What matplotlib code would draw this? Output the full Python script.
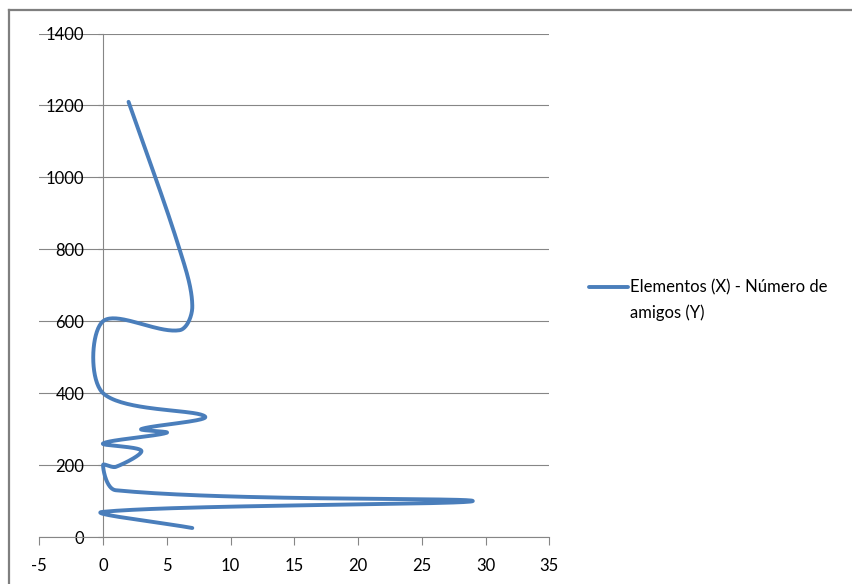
import numpy as np
import matplotlib
matplotlib.use("Agg")
import matplotlib.pyplot as plt
from matplotlib.lines import Line2D

# Elementos (X) and Número de amigos (Y), in plotting order
elementos = [7, 0, 29, 1, 0, 1, 3, 0, 5, 3, 8, 0, 0, 6, 7, 6, 2]
amigos = [25, 70, 100, 130, 200, 195, 240, 260, 290, 300, 335, 400, 600, 575, 640, 800, 1210]
series_label = "Elementos (X) - Número de\namigos (Y)"

x_ticks = list(range(-5, 36, 5))
y_ticks = list(range(0, 1401, 200))

LINE_BLUE = "#4A7EBB"
GRID_GREY = "#868686"
FONT = "Lato"

W, H, DPI = 853, 584, 100
fig = plt.figure(figsize=(W / DPI, H / DPI), dpi=DPI)
ax = fig.add_axes([39.3 / W, 1 - 537 / H, (549.3 - 39.3) / W, (537 - 33.5) / H])
ax.set_xlim(-5, 35)
ax.set_ylim(0, 1400)


def smooth_path(xs, ys, n=40):
    """Bezier smoothing through every point, computed in display space."""
    pts = ax.transData.transform(np.column_stack([xs, ys]))
    out = [pts[0]]
    m = len(pts)
    for i in range(m - 1):
        p0, p1 = pts[i], pts[i + 1]
        prev = pts[i - 1] if i > 0 else p0
        nxt = pts[i + 2] if i + 2 < m else p1
        d_prev = np.linalg.norm(p0 - prev)
        d_cur = np.linalg.norm(p1 - p0)
        d_next = np.linalg.norm(nxt - p1)
        t0 = p1 - prev
        t1 = nxt - p0
        f0 = d_cur / (d_prev + d_cur) / 3 if d_prev + d_cur > 0 else 0
        f1 = d_cur / (d_cur + d_next) / 3 if d_cur + d_next > 0 else 0
        c1 = p0 + t0 * f0
        c2 = p1 - t1 * f1
        t = np.linspace(0, 1, n)[1:, None]
        seg = ((1 - t) ** 3) * p0 + 3 * ((1 - t) ** 2) * t * c1 + 3 * (1 - t) * t ** 2 * c2 + t ** 3 * p1
        out.extend(seg)
    return ax.transData.inverted().transform(np.array(out))


curve = smooth_path(elementos, amigos)
ax.plot(curve[:, 0], curve[:, 1], color=LINE_BLUE, lw=2.8,
        solid_capstyle="round", solid_joinstyle="round", zorder=3)

# Axes: vertical axis crosses at x = 0, horizontal axis at y = 0
for side in ("top", "right"):
    ax.spines[side].set_visible(False)
ax.spines["left"].set_position(("data", 0))
for side in ("left", "bottom"):
    ax.spines[side].set_color(GRID_GREY)
    ax.spines[side].set_linewidth(0.8)

ax.set_xticks(x_ticks)
ax.set_yticks(y_ticks)
ax.set_xticklabels([str(v) for v in x_ticks])
ax.set_yticklabels([str(v) for v in y_ticks])
ax.tick_params(axis="x", direction="out", length=5.8, width=0.8, color=GRID_GREY,
               pad=9.0, labelsize=12, labelcolor="black")
ax.tick_params(axis="y", direction="out", length=3.6, width=0.8, color=GRID_GREY,
               pad=10.0, labelsize=12, labelcolor="black")
for lab in ax.get_xticklabels() + ax.get_yticklabels():
    lab.set_fontfamily(FONT)

ax.yaxis.grid(True, color=GRID_GREY, lw=0.8)
ax.set_axisbelow(True)

# Legend entry to the right of the plot
fig.add_artist(Line2D([589 / W, 628 / W], [1 - 287 / H, 1 - 287 / H],
                      color=LINE_BLUE, lw=2.8, solid_capstyle="round"))
fig.text(630 / W, 1 - 287 / H, series_label.split("\n")[0], fontsize=12,
         family=FONT, va="center", ha="left")
fig.text(630 / W, 1 - 313 / H, series_label.split("\n")[1], fontsize=12,
         family=FONT, va="center", ha="left")

# Chart area border
fig.add_artist(Line2D([9 / W, 1.0], [1 - 9.5 / H, 1 - 9.5 / H], color="#7F7F7F", lw=1.6))
fig.add_artist(Line2D([9 / W, 9 / W], [1 - 9.5 / H, 0.0], color="#7F7F7F", lw=1.6))

fig.savefig("out.png", dpi=DPI)
